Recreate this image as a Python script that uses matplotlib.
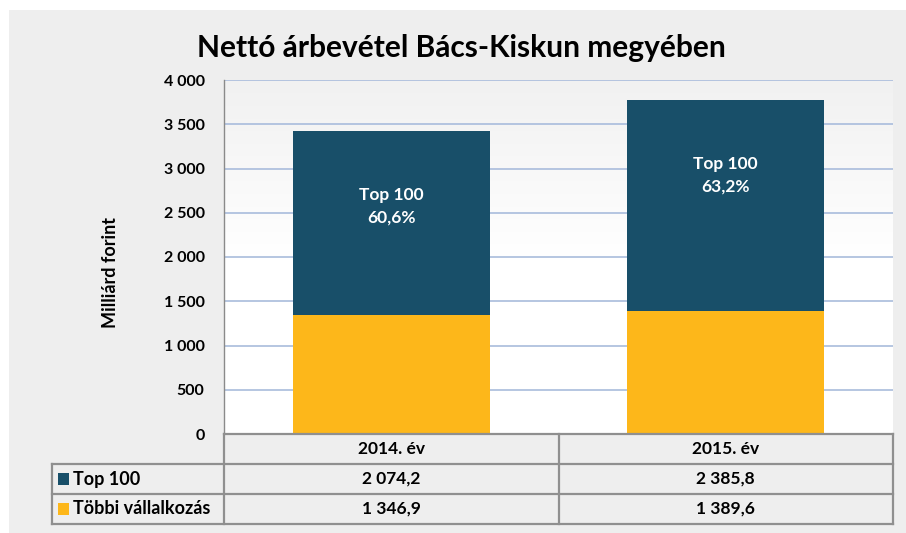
import numpy as np
import matplotlib.pyplot as plt
import matplotlib.transforms as mtransforms
from matplotlib.patches import Rectangle
from matplotlib.lines import Line2D

plt.rcParams['font.family'] = ['Lato', 'DejaVu Sans']

categories = ['2014. év', '2015. év']
series_names = ['Top 100', 'Többi vállalkozás']
top100 = [2074.2, 2385.8]
tobbi = [1346.9, 1389.6]
yticks = [0, 500, 1000, 1500, 2000, 2500, 3000, 3500, 4000]

c_top = '#184f69'
c_other = '#fdb71a'
grid_c = '#a9bcdc'
line_c = '#8f8f8f'

W, H = 906, 533
fig = plt.figure(figsize=(W / 100, H / 100), dpi=100)
fig.patch.set_facecolor('white')


def fx(px):
    return px / W


def fy(py):
    return 1 - py / H


# gray panel behind everything
fig.patches.append(Rectangle((fx(9), 0), 1 - fx(9), fy(10), transform=fig.transFigure,
                             facecolor='#eeeeee', edgecolor='none', zorder=-10))

ax = fig.add_axes([fx(224), fy(434), fx(893) - fx(224), fy(80) - fy(434)])
ax.set_xlim(-0.5, 1.5)
ax.set_ylim(0, 4000)

# plot-area gradient
grad = np.linspace(0, 1, 256).reshape(-1, 1)
cmap = plt.matplotlib.colors.LinearSegmentedColormap.from_list('g', ['#ffffff', '#ffffff', '#f1f1f1'])
ax.imshow(grad, extent=[-0.5, 1.5, 0, 4000], origin='lower', aspect='auto', cmap=cmap, zorder=0)
ax.set_facecolor('#f7f7f7')

x = np.arange(len(categories))
w = 0.59
ax.bar(x, tobbi, w, color=c_other, edgecolor='none', zorder=3)
ax.bar(x, top100, w, bottom=tobbi, color=c_top, edgecolor='none', zorder=3)

for i in range(len(categories)):
    total = top100[i] + tobbi[i]
    share = top100[i] / total * 100
    txt = 'Top 100\n' + ('%.1f%%' % share).replace('.', ',')
    ax.annotate(txt, xy=(x[i], total), xytext=(0, -56), textcoords='offset pixels',
                ha='center', va='top', color='white', fontsize=12.5, fontweight='bold',
                linespacing=1.5, zorder=5)

ax.set_yticks(yticks)
ax.set_yticklabels([('{:,}'.format(v)).replace(',', ' ') for v in yticks],
                   fontsize=11.5, fontweight='bold')
ax.tick_params(axis='y', length=0, pad=14)
ax.set_xticks([])
ax.yaxis.grid(True, color=grid_c, linewidth=1.2, zorder=1)
ax.set_axisbelow(True)
for s in ['top', 'right', 'bottom']:
    ax.spines[s].set_visible(False)
ax.spines['left'].set_color('#8a8a8a')
ax.spines['left'].set_linewidth(1)

fig.text(fx(110), fy(272), 'Milliárd forint', rotation=90, ha='center', va='center',
         fontsize=13, fontweight='bold')
fig.text(fx(461), fy(48), 'Nettó árbevétel Bács-Kiskun megyében', ha='center', va='center',
         fontsize=21.5, fontweight='bold')

# data table
tr = mtransforms.blended_transform_factory(ax.transData, fig.transFigure)
rows_y = [434, 464, 494, 524]
lw = 1.6
fig.add_artist(Line2D([fx(224), fx(893)], [fy(434), fy(434)], color=line_c, lw=lw))
for yy in rows_y[1:]:
    fig.add_artist(Line2D([fx(52), fx(893)], [fy(yy), fy(yy)], color=line_c, lw=lw))
fig.add_artist(Line2D([fx(52), fx(52)], [fy(464), fy(524)], color=line_c, lw=lw))
for xx in [224, 559, 893]:
    fig.add_artist(Line2D([fx(xx), fx(xx)], [fy(434), fy(524)], color=line_c, lw=lw))

for i, c in enumerate(categories):
    ax.text(x[i], fy(449), c, transform=tr, ha='center', va='center', fontsize=12.5, fontweight='bold')
for r, (vals, col, name) in enumerate(zip([top100, tobbi], [c_top, c_other], series_names)):
    ymid = (rows_y[r + 1] + rows_y[r + 2]) / 2
    fig.patches.append(Rectangle((fx(58), fy(ymid + 6)), fx(11), fy(ymid - 6) - fy(ymid + 6),
                                 transform=fig.transFigure, facecolor=col, edgecolor='none'))
    fig.text(fx(73), fy(ymid), name, ha='left', va='center', fontsize=13, fontweight='bold')
    for i, v in enumerate(vals):
        s = ('{:,.1f}'.format(v)).replace(',', ' ').replace('.', ',')
        ax.text(x[i], fy(ymid), s, transform=tr, ha='center', va='center',
                fontsize=12.5, fontweight='bold')

fig.savefig('out.png', dpi=100)
